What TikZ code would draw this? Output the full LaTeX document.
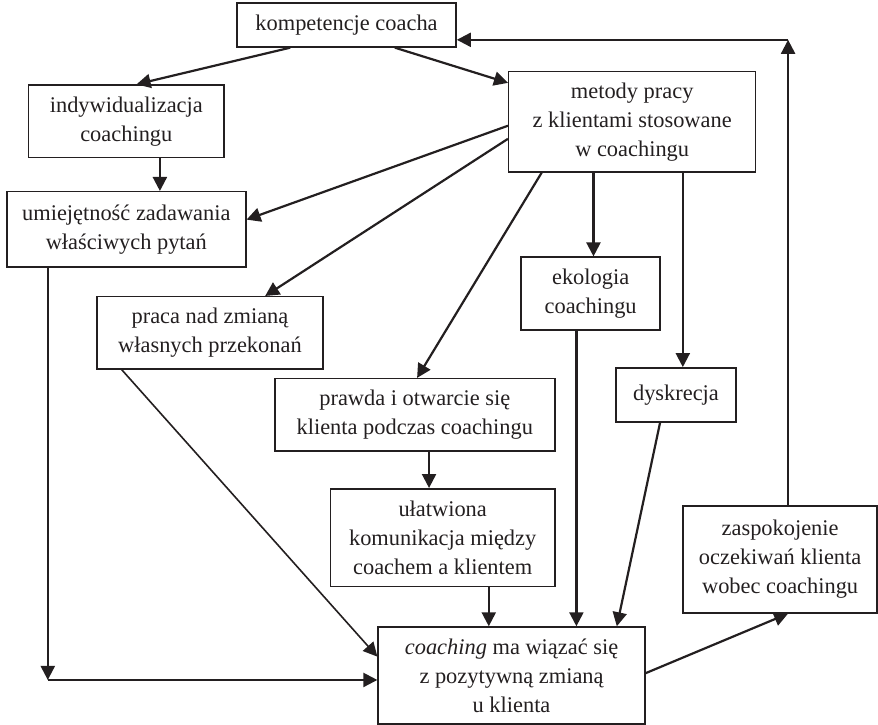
\documentclass[tikz,border=0pt]{standalone}
\usepackage{fontspec}
\setmainfont{Liberation Serif}
\usetikzlibrary{arrows.meta}
\definecolor{ink}{RGB}{35, 31, 32}

\begin{document}
\begin{tikzpicture}
  [
    box/.style={draw=ink, line width=0.75pt, align=center, inner sep=0pt,
      text=ink, font=\rmfamily\fontsize{11.2}{14.5}\selectfont},
    flow/.style={-{Triangle[length=7pt, width=7pt]}, ink, line width=1.1pt},
    thin flow/.style={flow, line width=0.8pt}
  ]
  \useasboundingbox (0, 0) rectangle (15.43, 12.74);

  \node[box, minimum width=3.85cm, minimum height=0.77cm] (komp) at (6.09, 12.30) {kompetencje coacha};
  \node[box, minimum width=3.43cm, minimum height=1.27cm] (indyw) at (2.22, 10.61) {indywidualizacja\\coachingu};
  \node[box, minimum width=4.20cm, minimum height=1.32cm] (pytania) at (2.22, 8.71) {umiejętność zadawania\\właściwych pytań};
  \node[box, minimum width=4.34cm, minimum height=1.76cm] (metody) at (11.11, 10.60) {metody pracy\\z klientami stosowane\\w coachingu};
  \node[box, minimum width=2.44cm, minimum height=1.28cm] (ekologia) at (10.38, 7.58) {ekologia\\coachingu};
  \node[box, minimum width=2.11cm, minimum height=0.95cm] (dyskrecja) at (11.88, 5.80) {dyskrecja};
  \node[box, minimum width=3.97cm, minimum height=1.27cm] (przekonania) at (3.69, 6.89) {praca nad zmianą\\własnych przekonań};
  \node[box, minimum width=4.92cm, minimum height=1.27cm] (prawda) at (7.29, 5.45) {prawda i otwarcie się\\klienta podczas coachingu};
  \node[box, minimum width=3.94cm, minimum height=1.72cm] (komunikacja) at (7.78, 3.29) {ułatwiona\\komunikacja między\\coachem a klientem};
  \node[box, minimum width=4.69cm, minimum height=1.70cm] (zmiana) at (8.99, 0.87) {\textit{coaching} ma wiązać się\\z pozytywną zmianą\\u klienta};
  \node[box, minimum width=3.41cm, minimum height=1.88cm] (oczekiwania) at (13.71, 2.91) {zaspokojenie\\oczekiwań klienta\\wobec coachingu};

  \coordinate (dol) at (0.84, 0.79);
  \coordinate (gora) at (13.85, 12.04);

  % from kompetencje
  \draw[flow] ([xshift=-0.99cm]komp.south) -- ([xshift=0.18cm]indyw.north);
  \draw[flow] ([xshift=0.85cm]komp.south) -- ([yshift=-0.21cm]metody.north west);
  \draw[flow] ([xshift=0.59cm]indyw.south) -- ([xshift=0.59cm]pytania.north);

  % from metody
  \draw[flow] ([yshift=-0.07cm]metody.west) -- ([yshift=0.17cm]pytania.east);
  \draw[flow] ([yshift=-0.30cm]metody.west) -- ([xshift=0.97cm]przekonania.north);
  \draw[flow] ([xshift=-1.59cm]metody.south) -- ([xshift=0.04cm]prawda.north);
  \draw[flow] ([xshift=-0.68cm]metody.south) -- ([xshift=-0.68cm]metody.south |- ekologia.north);
  \draw[flow] ([xshift=0.89cm]metody.south) -- ([xshift=0.89cm]metody.south |- dyskrecja.north);

  % into coaching
  \draw[flow] (pytania.south -| dol) -- (dol);
  \draw[flow] (dol) -- (dol -| zmiana.west);
  \draw[thin flow] ([xshift=-1.55cm]przekonania.south) -- ([yshift=0.33cm]zmiana.west);
  \draw[flow] ([xshift=0.25cm]prawda.south) -- ([xshift=0.25cm]prawda.south |- komunikacja.north);
  \draw[flow] ([xshift=0.81cm]komunikacja.south) -- ([xshift=0.81cm]komunikacja.south |- zmiana.north);
  \draw[flow] ([xshift=-0.25cm]ekologia.south) -- ([xshift=-0.25cm]ekologia.south |- zmiana.north);
  \draw[flow] ([xshift=-0.28cm]dyskrecja.south) -- ([xshift=1.85cm]zmiana.north);

  % back to kompetencje
  \draw[flow] ([yshift=0.04cm]zmiana.east) -- ([xshift=0.14cm]oczekiwania.south);
  \draw[flow] (oczekiwania.north -| gora) -- (gora);
  \draw[flow] (gora) -- (gora -| komp.east);

\end{tikzpicture}
\end{document}
